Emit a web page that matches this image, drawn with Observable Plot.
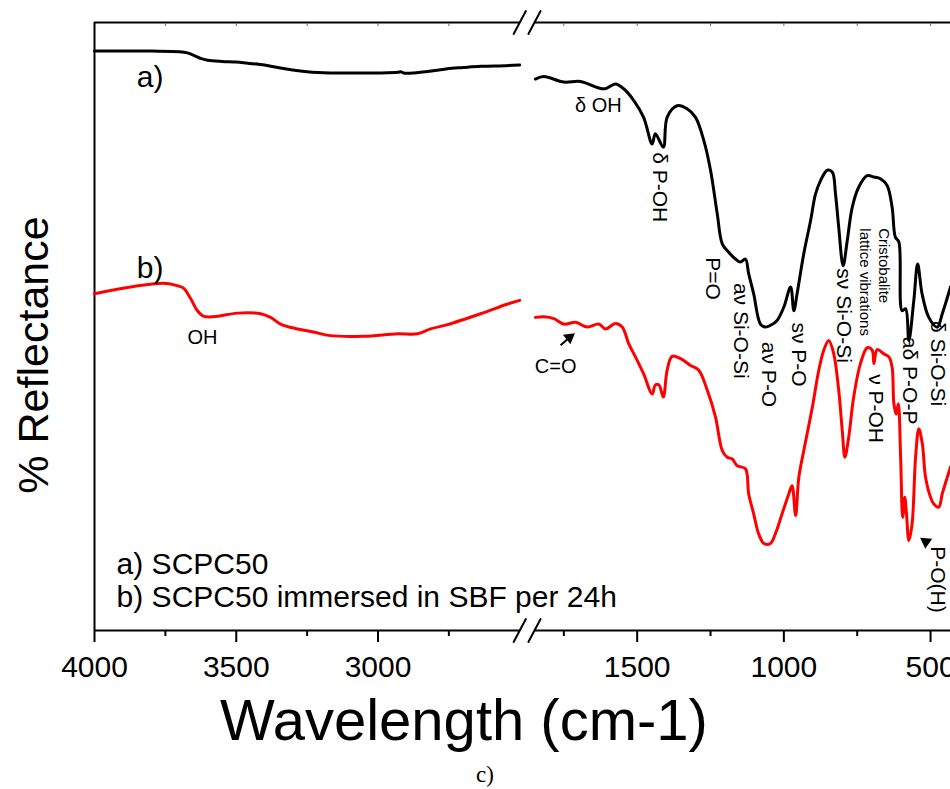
<!DOCTYPE html>
<html><head><meta charset="utf-8">
<script src="https://cdn.jsdelivr.net/npm/d3@7"></script>
<script src="https://cdn.jsdelivr.net/npm/@observablehq/plot@0.6"></script>
<style>
body{margin:0;background:#fff;}
#wrap{position:relative;width:950px;height:789px;font-family:"Liberation Sans",Arial,sans-serif;color:#000;overflow:hidden;background:#fff}
#left{position:absolute;left:0;top:0}
#right{position:absolute;left:500px;top:0}
#left svg,#right svg{overflow:visible}
#ytitle{position:absolute;left:33px;top:355px;transform:translate(-50%,-50%) rotate(-90deg);font-size:43px;white-space:nowrap;line-height:1}
#xtitle{position:absolute;left:464px;top:691px;transform:translateX(-50%);font-size:58px;white-space:nowrap;line-height:1}
#cap{position:absolute;left:485px;top:763px;transform:translateX(-50%);font-family:"Liberation Serif","Times New Roman",serif;font-size:23px;line-height:1}
</style></head>
<body><div id="wrap"><div id="left"></div><div id="right"></div><div id="ytitle">% Reflectance</div><div id="xtitle">Wavelength (cm-1)</div><div id="cap">c)</div></div>
<script>
// ---- data (wavenumber cm-1, reflectance in arbitrary units 0-100) ----
const aLeftWn = [4000, 3800, 3700, 3672, 3640, 3626, 3601, 3550, 3500, 3460, 3400, 3344, 3300, 3250, 3168, 3100, 3000, 2930, 2920, 2910, 2875, 2800, 2755, 2700, 2638, 2550, 2500];
const aLeftR  = [95.3, 95.3, 95.2, 95.0, 94.4, 94.1, 93.8, 93.6, 93.5, 93.3, 93.0, 92.5, 92.2, 91.9, 91.7, 91.7, 91.7, 91.8, 91.9, 91.7, 91.7, 92.1, 92.4, 92.6, 92.8, 92.9, 93.0];

const bLeftWn = [4000, 3760, 3707, 3686, 3661, 3637, 3616, 3580, 3496, 3414, 3379, 3344, 3284, 3228, 3168, 3051, 2931, 2861, 2815, 2755, 2638, 2543, 2500];
const bLeftR  = [55.4, 57.1, 56.7, 56.3, 54.6, 52.6, 51.7, 51.6, 52.2, 52.1, 51.5, 50.4, 49.6, 49.1, 48.5, 48.4, 48.8, 48.8, 49.6, 50.3, 52.1, 53.7, 54.3];

const aRightWn = [1847, 1818, 1750, 1693, 1636, 1608, 1574, 1546, 1512, 1478, 1449, 1438, 1411, 1398, 1364, 1330, 1301, 1273, 1250, 1227, 1210, 1188, 1165, 1148, 1131, 1120, 1103, 1080, 1063, 1045, 1023, 1000, 977, 966, 955, 932, 909, 892, 875, 852, 835, 824, 813, 798, 784, 767, 745, 716, 693, 671, 648, 631, 620, 608, 597, 585, 574, 557, 544, 529, 506, 477, 460, 432];
const aRightR  = [90.7, 91.1, 90.2, 90.3, 89.3, 89.1, 89.9, 89.1, 87.2, 84.4, 80.0, 81.7, 79.5, 84.4, 86.3, 85.8, 84.4, 80.6, 75.7, 68.5, 63.6, 62.2, 61.1, 60.6, 61.1, 58.7, 55.4, 50.4, 49.9, 50.2, 51.0, 53.2, 56.5, 52.6, 55.4, 62.0, 67.4, 71.8, 74.0, 75.7, 75.4, 71.8, 66.3, 60.0, 64.1, 69.6, 72.9, 74.8, 74.6, 74.3, 73.2, 69.6, 64.7, 63.9, 52.6, 52.9, 47.7, 54.3, 60.3, 55.4, 51.5, 49.9, 52.1, 56.5];

const bRightWn = [1847, 1818, 1784, 1750, 1710, 1670, 1631, 1608, 1574, 1551, 1529, 1506, 1478, 1449, 1438, 1426, 1411, 1398, 1381, 1352, 1318, 1290, 1261, 1233, 1210, 1193, 1176, 1159, 1131, 1120, 1103, 1086, 1068, 1046, 1029, 1006, 983, 972, 960, 949, 932, 903, 881, 864, 847, 830, 813, 801, 792, 779, 762, 739, 716, 699, 693, 682, 659, 642, 631, 625, 617, 610, 602, 595, 588, 582, 574, 563, 551, 540, 528, 517, 500, 489, 472, 460, 443, 432];
const bRightR  = [51.5, 51.6, 51.3, 50.4, 50.7, 49.9, 50.4, 49.6, 50.5, 49.9, 47.2, 45.0, 42.2, 38.9, 40.4, 40.4, 38.4, 42.8, 45.1, 44.7, 43.6, 42.8, 39.5, 35.1, 29.6, 28.5, 28.2, 27.1, 26.6, 22.5, 19.2, 15.9, 14.3, 14.3, 15.9, 19.2, 22.5, 23.8, 18.9, 25.2, 29.6, 36.7, 42.8, 46.1, 47.7, 45.5, 39.5, 32.9, 28.5, 31.8, 38.4, 43.9, 46.5, 46.1, 43.9, 46.2, 45.5, 45.0, 43.3, 37.3, 35.6, 37.3, 28.5, 18.6, 21.9, 19.2, 14.8, 17.5, 28.5, 33.2, 30.7, 25.2, 21.9, 20.8, 20.3, 22.5, 25.2, 26.9];

const leftDomain = [4000, 2500];
const rightDomain = [1850, 432];
const leftMajor = [4000, 3500, 3000];
const leftMinor = [3750, 3250, 2750];
const rightMajor = [1500, 1000, 500];
const rightMinor = [1750, 1250, 750];

// band labels (rotated) and plain labels
const bandText = ["δ P-OH", "P=O", "aν Si-O-Si", "aν P-O", "sν P-O", "sν Si-O-Si", "ν P-OH", "aδ P-O-P", "δ Si-O-Si", "P-O(H)"];
const bandWn   = [1424, 1242, 1148, 1051, 949, 797, 688, 572, 477, 476];
const bandR    = [72.9, 57.9, 49.3, 42.1, 45.4, 51.8, 36.5, 41.1, 43.9, 8.4];
const smallBandText = ["lattice vibrations", "Cristobalite"];
const smallBandWn   = [725, 659];
const smallBandR    = [57.3, 60.0];
const leftNoteText = ["OH"];
const leftNoteWn   = [3619];
const leftNoteR    = [48.2];
const rightNoteText = ["δ OH", "C=O"];
const rightNoteWn   = [1632, 1778];
const rightNoteR    = [86.3, 43.4];
const curveTag   = ["a)", "b)"];
const curveTagWn = [3804, 3804];
const curveTagR  = [90.9, 59.5];
const legendText = ["a) SCPC50", "b) SCPC50 immersed in SBF per 24h"];
const legendWn   = [3922, 3922];
const legendR    = [10.9, 5.4];
const arrowWn  = [1731, 516];
const arrowR   = [48.2, 14.6];
const arrowDir = [52, -55];
const arrowTail = [{w1: 1761, r1: 46.9, w2: 1733, r2: 48.1}];

const rows = (ws, rs) => ws.map((w, i) => ({w, r: rs[i]}));
const txt = (ts, ws, rs) => ts.map((t, i) => ({t, w: ws[i], r: rs[i]}));

const FONT = "Liberation Sans, Arial, Helvetica, sans-serif";
const H = 690, TOP = 22, BOTTOM = 60;
const lineOpts = {x: "w", y: "r", strokeWidth: 3, curve: "catmull-rom", strokeLinejoin: "round", strokeLinecap: "round"};
const slashShape = {draw(ctx, l) { ctx.moveTo(0, 0); ctx.lineTo(0, -l); }};

function frameMarks(domain, major, minor, breakAt, withLeftAxis) {
  const seg = [{x1: domain[0], x2: domain[1]}];
  const brk = [{w: breakAt, r: 0}, {w: breakAt, r: 100}];
  const marks = [
    Plot.ruleY(seg, {y: 0, x1: "x1", x2: "x2", stroke: "#000", strokeWidth: 2}),
    Plot.ruleY(seg, {y: 100, x1: "x1", x2: "x2", stroke: "#000", strokeWidth: 2}),
    Plot.axisX(major, {anchor: "bottom", tickSize: 12, tickPadding: 13, fontSize: 30, strokeWidth: 2, tickFormat: d => String(d), label: null, fill: "#000", stroke: "#000"}),
    Plot.axisX(minor, {anchor: "bottom", tickSize: 6, strokeWidth: 2, tickFormat: () => "", label: null, stroke: "#000"}),
    Plot.axisX([...major, ...minor], {anchor: "top", tickSize: 3, dy: 3, strokeWidth: 1, tickFormat: () => "", label: null, stroke: "#666"})
  ];
  try {
    marks.push(Plot.vector(brk, {x: "w", y: "r", length: 26, rotate: 28, shape: slashShape, anchor: "middle", stroke: "#000", strokeWidth: 2}));
  } catch (e) {
    marks.push(Plot.text(brk, {x: "w", y: "r", text: () => "/", fontSize: 30, fill: "#000"}));
  }
  if (withLeftAxis) marks.push(Plot.ruleX([domain[0]], {y1: 0, y2: 100, stroke: "#000", strokeWidth: 2}));
  return marks;
}

const left = Plot.plot({
  width: 535, height: H,
  marginLeft: 94, marginRight: 535 - 519.25, marginTop: TOP, marginBottom: BOTTOM,
  style: {fontFamily: FONT, background: "transparent", overflow: "visible"},
  x: {domain: leftDomain, axis: null, label: null},
  y: {domain: [0, 100], axis: null, label: null},
  marks: [
    ...frameMarks(leftDomain, leftMajor, leftMinor, 2500, true),
    Plot.line(rows(aLeftWn, aLeftR), {...lineOpts, stroke: "#000"}),
    Plot.line(rows(bLeftWn, bLeftR), {...lineOpts, stroke: "#ff0000"}),
    Plot.text(txt(leftNoteText, leftNoteWn, leftNoteR), {x: "w", y: "r", text: "t", fontSize: 20, fill: "#000"}),
    Plot.text(txt(curveTag, curveTagWn, curveTagR), {x: "w", y: "r", text: "t", fontSize: 30, fill: "#000"}),
    Plot.text(txt(legendText, legendWn, legendR), {x: "w", y: "r", text: "t", fontSize: 30, textAnchor: "start", fill: "#000"})
  ]
});

const right = Plot.plot({
  width: 450, height: H,
  marginLeft: 34, marginRight: 0, marginTop: TOP, marginBottom: BOTTOM,
  style: {fontFamily: FONT, background: "transparent", overflow: "visible"},
  x: {domain: rightDomain, axis: null, label: null},
  y: {domain: [0, 100], axis: null, label: null},
  marks: [
    ...frameMarks(rightDomain, rightMajor, rightMinor, 1850, false),
    Plot.line(rows(aRightWn, aRightR), {...lineOpts, stroke: "#000"}),
    Plot.line(rows(bRightWn, bRightR), {...lineOpts, stroke: "#ff0000"}),
    Plot.text(txt(bandText, bandWn, bandR), {x: "w", y: "r", text: "t", rotate: 90, fontSize: 21, fill: "#000"}),
    Plot.text(txt(smallBandText, smallBandWn, smallBandR), {x: "w", y: "r", text: "t", rotate: 90, fontSize: 15, fill: "#000"}),
    Plot.text(txt(rightNoteText, rightNoteWn, rightNoteR), {x: "w", y: "r", text: "t", fontSize: 20, fill: "#000"}),
    Plot.link(arrowTail, {x1: "w1", y1: "r1", x2: "w2", y2: "r2", stroke: "#000", strokeWidth: 2}),
    Plot.dot(arrowWn.map((w, i) => ({w, r: arrowR[i], a: arrowDir[i]})), {x: "w", y: "r", symbol: "triangle", r: 4.5, rotate: "a", fill: "#000", stroke: "none"})
  ]
});

document.getElementById("left").appendChild(left);
document.getElementById("right").appendChild(right);
</script>
</body></html>
